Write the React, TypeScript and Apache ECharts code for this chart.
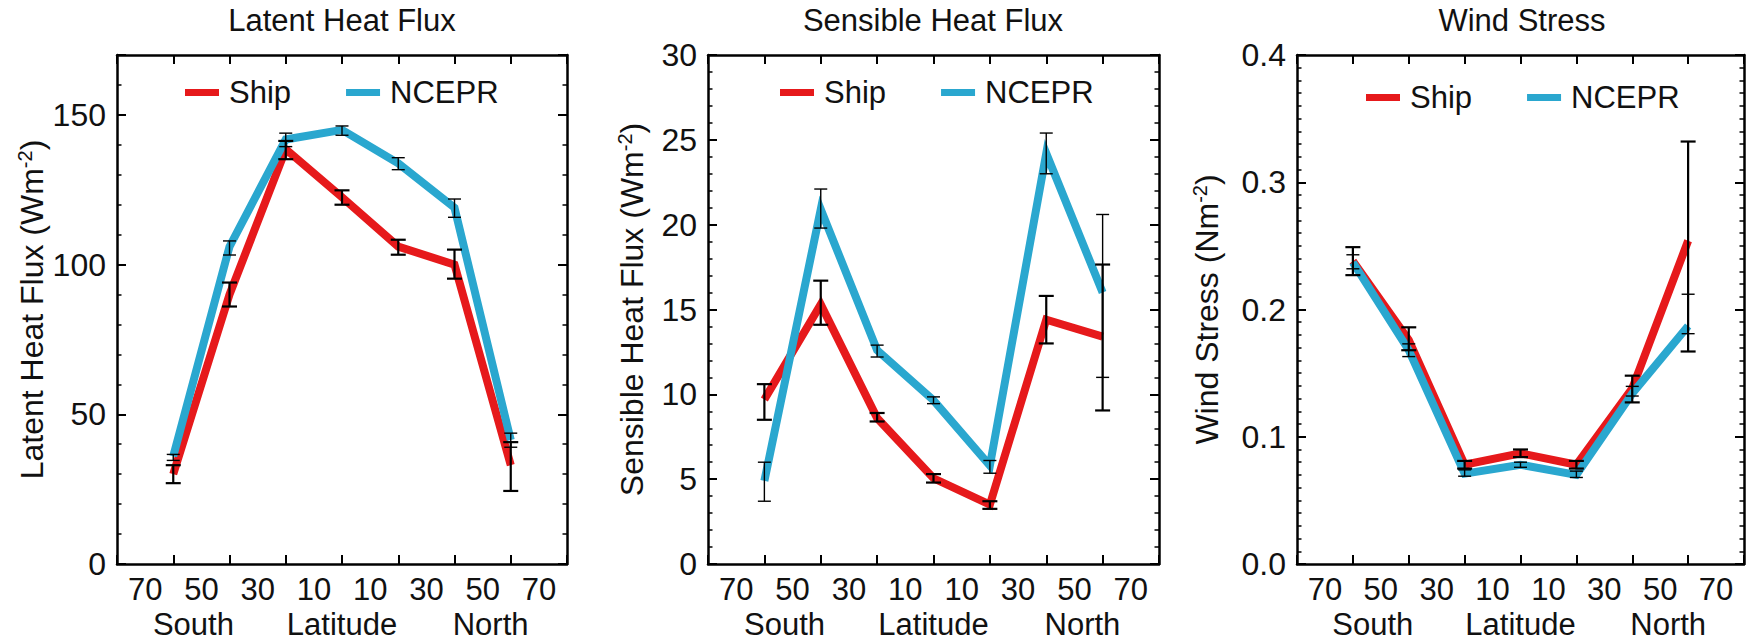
import React, { useEffect, useRef } from 'react';
import * as echarts from 'echarts';

// ---------------- data ----------------
const latitudes = [-60, -40, -20, 0, 20, 40, 60];
const seriesNames = ['Ship', 'NCEPR'];
const titles = ['Latent Heat Flux', 'Sensible Heat Flux', 'Wind Stress'];
const yNames = ['Latent Heat Flux (Wm{sup|-2})', 'Sensible Heat Flux (Wm{sup|-2})', 'Wind Stress (Nm{sup|-2})'];
const xTickLabels = ['70', '50', '30', '10', '10', '30', '50', '70'];
const xGroupLabels = ['South', 'Latitude', 'North'];

// Latent heat flux (W m-2)
const latentShip = [30, 90, 138.5, 122.5, 106, 100, 33];
const latentShipLow = [27, 86, 135.2, 120, 103.3, 95.3, 24.4];
const latentShipHigh = [33, 94, 141.3, 124.8, 108.3, 105, 40.7];
const latentNcep = [36, 106, 141.8, 145, 133.8, 119, 41.4];
const latentNcepLow = [34.6, 103.2, 139.4, 143.2, 131.7, 115.8, 39];
const latentNcepHigh = [36.6, 107.9, 143.9, 146.3, 135.7, 121.9, 43.7];

// Sensible heat flux (W m-2)
const sensShip = [9.7, 15.3, 8.6, 5.05, 3.5, 14.4, 13.4];
const sensShipLow = [8.5, 14.1, 8.4, 4.8, 3.25, 13.0, 9.05];
const sensShipHigh = [10.6, 16.7, 8.9, 5.3, 3.7, 15.8, 17.65];
const sensNcep = [4.9, 20.9, 12.6, 9.65, 5.8, 24.2, 16.0];
const sensNcepLow = [3.7, 19.8, 12.2, 9.45, 5.35, 23.0, 11.0];
const sensNcepHigh = [6.0, 22.1, 12.9, 9.85, 6.1, 25.4, 20.6];

// Wind stress (N m-2)
const windShip = [0.238, 0.176, 0.078, 0.087, 0.078, 0.138, 0.254];
const windShipLow = [0.227, 0.168, 0.075, 0.084, 0.075, 0.127, 0.167];
const windShipHigh = [0.249, 0.186, 0.081, 0.09, 0.081, 0.148, 0.332];
const windNcep = [0.237, 0.168, 0.071, 0.078, 0.07, 0.134, 0.187];
const windNcepLow = [0.232, 0.163, 0.069, 0.076, 0.068, 0.132, 0.181];
const windNcepHigh = [0.243, 0.173, 0.074, 0.08, 0.073, 0.1396, 0.212];

// y-axis scales
const yMaxes = [170, 30, 0.4];
const yMajors = [50, 5, 0.1];
const yMinors = [10, 1, 0.01];

// ---------------- styles / layout ----------------
const FONT = '"Liberation Sans", Arial, Helvetica, sans-serif';
const RED = '#e6191b';
const BLUE = '#2aa7cf';
const INK = '#111111';
const GRID_TOP = 55;
const GRID_H = 511;
const FS_TITLE = 31;
const FS_LEGEND = 31;
const FS_X = 31;
const FS_Y = 32;
const FS_NAME = 32;
const layout = [
  { left: 117, width: 450, nameGap: 66, legendLeft: 185, legendTop: 77, titleX: 342 },
  { left: 708, width: 451, nameGap: 59, legendLeft: 780, legendTop: 77, titleX: 933 },
  { left: 1297, width: 449, nameGap: 73, legendLeft: 1366, legendTop: 82, titleX: 1522 },
];

const panelsData = [
  { ship: latentShip, shipLo: latentShipLow, shipHi: latentShipHigh, ncep: latentNcep, ncepLo: latentNcepLow, ncepHi: latentNcepHigh },
  { ship: sensShip, shipLo: sensShipLow, shipHi: sensShipHigh, ncep: sensNcep, ncepLo: sensNcepLow, ncepHi: sensNcepHigh },
  { ship: windShip, shipLo: windShipLow, shipHi: windShipHigh, ncep: windNcep, ncepLo: windNcepLow, ncepHi: windNcepHigh },
];

const yFormatters = [
  (v: number) => (Math.abs(v % 50) < 1e-9 ? String(v) : ''),
  (v: number) => String(v),
  (v: number) => v.toFixed(1),
];

function latLabel(v: number): string {
  const r = Math.round(v);
  const idx = (r + 70) / 20; // -70 -> 0, -50 -> 1 ...
  let top = '';
  if (Number.isInteger(idx) && idx >= 0 && idx < xTickLabels.length) top = xTickLabels[idx];
  if (r === -50) return top + '\n{s|' + xGroupLabels[0] + '}';
  if (r === 0) return ' \n{c|' + xGroupLabels[1] + '}';
  if (r === 50) return top + '\n{n|' + xGroupLabels[2] + '}';
  return top;
}

function errorRenderer(lineW: number, capW: number) {
  return (params: any, api: any) => {
    const x = api.value(0);
    const lo = api.value(1);
    const hi = api.value(2);
    const a = api.coord([x, lo]);
    const b = api.coord([x, hi]);
    const style = { stroke: '#000', lineWidth: lineW, fill: null };
    return {
      type: 'group',
      children: [
        { type: 'line', shape: { x1: a[0], y1: a[1], x2: b[0], y2: b[1] }, style },
        { type: 'line', shape: { x1: a[0] - capW / 2, y1: a[1], x2: a[0] + capW / 2, y2: a[1] }, style },
        { type: 'line', shape: { x1: b[0] - capW / 2, y1: b[1], x2: b[0] + capW / 2, y2: b[1] }, style },
      ],
    };
  };
}

function buildOption() {
  const grid: any[] = [];
  const xAxis: any[] = [];
  const yAxis: any[] = [];
  const series: any[] = [];
  const title: any[] = [];
  const legend: any[] = [];
  const frameLine = { show: true, onZero: false, lineStyle: { color: '#000', width: 2.5 } };
  const noLine = { show: false, onZero: false };
  const majorTick = { show: true, inside: true, length: 9, lineStyle: { color: '#000', width: 2 } };
  const minorTick = { show: true, inside: true, length: 4.5, lineStyle: { color: '#000', width: 1.5 } };
  const xText = { fontSize: FS_X, lineHeight: 35, color: INK, fontFamily: FONT };

  panelsData.forEach((p, i) => {
    const L = layout[i];
    grid.push({ left: L.left, top: GRID_TOP, width: L.width, height: GRID_H });
    const xBase = { gridIndex: i, type: 'value', min: -80, max: 80, splitLine: { show: false } };
    xAxis.push({
      ...xBase, position: 'bottom', interval: 10, axisLine: frameLine, axisTick: { show: false },
      axisLabel: {
        show: true, margin: 8, ...xText,
        formatter: latLabel,
        rich: {
          s: { ...xText, padding: [0, 16, 0, 0] },
          c: { ...xText },
          n: { ...xText, padding: [0, 0, 0, 16] },
        },
      },
    });
    xAxis.push({ ...xBase, position: 'bottom', interval: 20, axisLine: noLine, axisTick: majorTick, axisLabel: { show: false } });
    xAxis.push({ ...xBase, position: 'top', interval: 20, axisLine: frameLine, axisTick: majorTick, axisLabel: { show: false } });

    const yBase = { gridIndex: i, type: 'value', min: 0, max: yMaxes[i], splitLine: { show: false } };
    yAxis.push({
      ...yBase, position: 'left', interval: yMajors[i], axisLine: frameLine, axisTick: majorTick,
      axisLabel: { show: true, margin: 11, fontSize: FS_Y, color: INK, fontFamily: FONT, formatter: yFormatters[i] },
      name: yNames[i], nameLocation: 'middle', nameGap: L.nameGap,
      nameTextStyle: {
        fontSize: FS_NAME, lineHeight: 34, color: INK, fontFamily: FONT,
        rich: { sup: { fontSize: 20, lineHeight: 16, verticalAlign: 'top', color: INK, fontFamily: FONT } },
      },
    });
    yAxis.push({ ...yBase, position: 'left', interval: yMinors[i], axisLine: noLine, axisTick: minorTick, axisLabel: { show: false } });
    yAxis.push({ ...yBase, position: 'right', interval: yMajors[i], axisLine: frameLine, axisTick: majorTick, axisLabel: { show: false } });
    yAxis.push({ ...yBase, position: 'right', interval: yMinors[i], axisLine: noLine, axisTick: minorTick, axisLabel: { show: false } });

    const xi = i * 3;
    const yi = i * 4;
    const lines = [
      { name: seriesNames[0], vals: p.ship, color: RED },
      { name: seriesNames[1], vals: p.ncep, color: BLUE },
    ];
    lines.forEach((s, k) => {
      series.push({
        type: 'line', name: s.name, xAxisIndex: xi, yAxisIndex: yi,
        data: latitudes.map((lat, j) => [lat, s.vals[j]]),
        showSymbol: false, symbol: 'none', color: s.color, itemStyle: { color: s.color },
        lineStyle: { color: s.color, width: 8, cap: 'butt', join: 'miter' },
        z: 2 + k, silent: true,
      });
    });
    const bars = [
      { lo: p.shipLo, hi: p.shipHi, w: 2.2, cap: 15 },
      { lo: p.ncepLo, hi: p.ncepHi, w: 1.4, cap: 13 },
    ];
    bars.forEach((b) => {
      series.push({
        type: 'custom', xAxisIndex: xi, yAxisIndex: yi, silent: true, z: 10,
        data: latitudes.map((lat, j) => [lat, b.lo[j], b.hi[j]]),
        encode: { x: 0, y: [1, 2] },
        renderItem: errorRenderer(b.w, b.cap),
      });
    });

    title.push({
      text: titles[i], left: L.titleX, top: 3, textAlign: 'center', padding: 0,
      textStyle: { fontSize: FS_TITLE, fontWeight: 'normal', color: INK, fontFamily: FONT, lineHeight: 34 },
    });
    legend.push({
      left: L.legendLeft, top: L.legendTop, padding: 0, orient: 'horizontal',
      itemWidth: 34, itemHeight: 7, itemGap: 55, icon: 'rect', selectedMode: false,
      data: seriesNames,
      textStyle: { fontSize: FS_LEGEND, lineHeight: 30, color: INK, fontFamily: FONT, padding: [0, 0, 0, 5] },
    });
  });

  return { animation: false, backgroundColor: '#ffffff', grid, xAxis, yAxis, series, title, legend };
}

export default function App() {
  const ref = useRef<HTMLDivElement>(null);
  useEffect(() => {
    document.body.style.margin = '0';
    if (!ref.current) return;
    const chart = echarts.init(ref.current, undefined, { renderer: 'svg' });
    chart.setOption(buildOption() as any);
    return () => chart.dispose();
  }, []);
  return <div ref={ref} style={{ width: 1747, height: 642 }} />;
}
